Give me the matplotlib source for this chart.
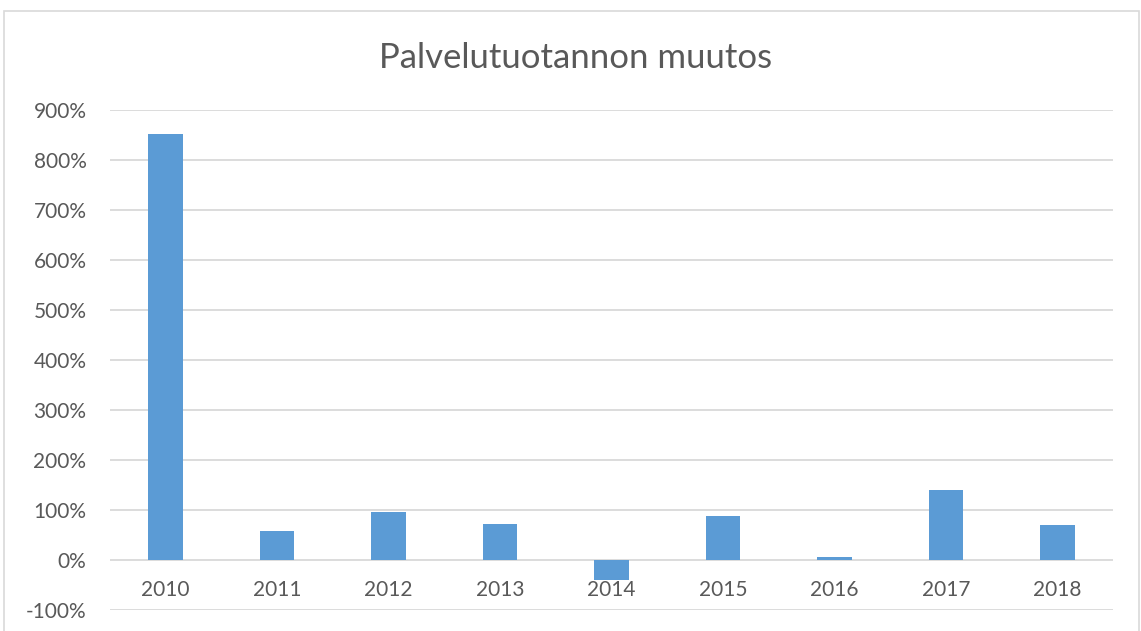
import matplotlib.pyplot as plt
import matplotlib.transforms as mtransforms
from matplotlib.patches import Rectangle
from matplotlib.ticker import FuncFormatter

years = ["2010", "2011", "2012", "2013", "2014", "2015", "2016", "2017", "2018"]
change = [853, 58, 97, 73, -40, 89, 6, 140, 71]  # percent

plt.rcParams["font.family"] = ["Lato", "DejaVu Sans"]
txt_color = "#595959"

fig = plt.figure(figsize=(11.41, 6.31), dpi=100)
W, H = 1141, 631
ax = fig.add_axes([110 / W, (H - 610) / H, (1113 - 110) / W, 500 / H])

# chart border
fig.patches.append(Rectangle((4 / W, -0.01), (W - 6) / W, (H - 11) / H + 0.01,
                             transform=fig.transFigure, fill=False,
                             edgecolor="#D9D9D9", linewidth=1.2))

x = range(len(years))
ax.bar(x, change, width=0.31, color="#5B9BD5", zorder=3)

ax.set_ylim(-100, 900)
ax.set_xlim(-0.5, len(years) - 0.5)
ax.set_yticks(range(-100, 1000, 100))
ax.yaxis.set_major_formatter(FuncFormatter(lambda v, p: f"{int(v)}%"))
ax.tick_params(axis="y", length=0, labelsize=15, labelcolor=txt_color, pad=17)
ax.set_xticks([])
ax.grid(axis="y", color="#D9D9D9", linewidth=1.3, zorder=0)
for s in ax.spines.values():
    s.set_visible(False)

# category labels just below the zero line
off = mtransforms.offset_copy(ax.transData, fig=fig, x=0, y=-30, units="dots")
for i, yr in enumerate(years):
    ax.text(i, 0, yr, transform=off, ha="center", va="center",
            fontsize=15, color=txt_color)

fig.text(576 / W, (H - 58) / H, "Palvelutuotannon muutos", ha="center", va="center",
         fontsize=25, color=txt_color)

fig.savefig("out.png", dpi=100)
